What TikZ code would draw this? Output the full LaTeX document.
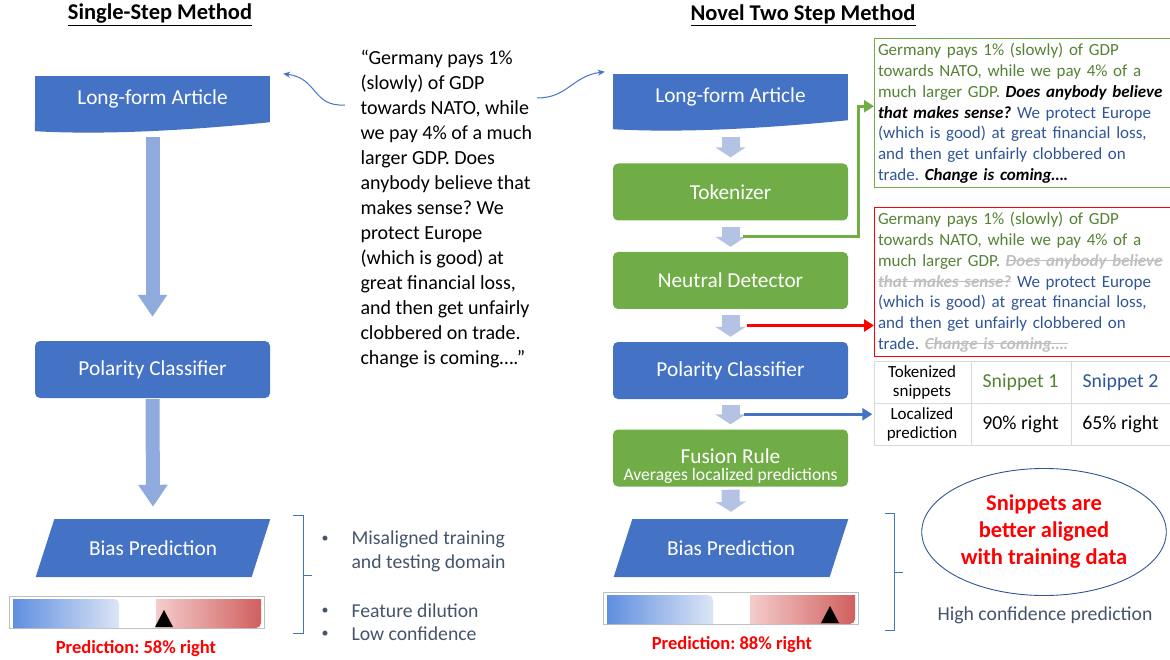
\documentclass[tikz,border=0pt]{standalone}
\usepackage{fontspec}
\setmainfont{Carlito}
\usetikzlibrary{positioning,shapes.geometric,arrows.meta,calc}

\definecolor{boxblue}{HTML}{4472C4}
\definecolor{boxgreen}{HTML}{70AD47}
\definecolor{longblue}{HTML}{8FAADC}
\definecolor{shortblue}{HTML}{B4C2E4}
\definecolor{txtgreen}{HTML}{548235}
\definecolor{txtblue}{HTML}{2F5597}
\definecolor{txtgray}{HTML}{44546A}
\definecolor{strikegray}{HTML}{BFBFBF}
\definecolor{barblue}{HTML}{5F8FE0}
\definecolor{barbluelight}{HTML}{DCE5F5}
\definecolor{barred}{HTML}{D0605E}
\definecolor{barredlight}{HTML}{F4CCCC}
\definecolor{tabline}{HTML}{D9D9D9}
\definecolor{bargray}{HTML}{BFBFBF}

\frenchspacing
\newcommand{\setfs}[2]{\fontsize{#1}{#2}\selectfont}
\newsavebox{\strkbox}
\newcommand{\strk}[1]{\leavevmode\sbox\strkbox{#1}\rlap{\rule[0.3em]{\wd\strkbox}{0.9pt}}\usebox\strkbox}
\newcommand{\loud}[1]{{\color{black}\bfseries\itshape #1}}
\newcommand{\gone}[1]{{\color{strikegray}\bfseries\itshape\strk{#1}}}
\newcommand{\blu}[1]{{\color{txtblue}#1}}

\begin{document}
\begin{tikzpicture}[x=1pt,y=-1pt,
  titledecorate/.style={font=\setfs{22.5}{26}\bfseries},
  docdecorate/.style={rectangle,fill=boxblue,minimum width=235pt,
    minimum height=46pt,text=white,font=\setfs{21.3}{25}},
  boxdecorate/.style={rectangle,rounded corners=5pt,minimum width=235pt,
    minimum height=57pt,text=white,font=\setfs{21.3}{25}},
  paradecorate/.style={trapezium,trapezium left angle=51,
    trapezium right angle=129,trapezium stretches=true,inner sep=0pt,
    minimum width=235pt,minimum height=58pt,fill=boxblue,text=white,
    font=\setfs{21.3}{25}},
  longarrow/.style={longblue,line width=14pt,-{Triangle[width=28pt,length=22pt]}},
  shortarrow/.style={shortblue,line width=18pt,-{Triangle[width=30pt,length=10pt]}},
  quotearrow/.style={boxblue,line width=1pt,-{Stealth[length=7pt,width=6pt]}},
  sidearrow/.style={line width=3pt,-{Triangle[length=10pt,width=12pt]}},
  textboxdecorate/.style={anchor=north west,line width=1pt,inner xsep=3.5pt,
    inner ysep=5pt,text width=289pt,align=left,text=txtgreen,
    font=\setfs{17}{20.7}},
  celldecorate/.style={minimum width=99pt,minimum height=42pt,align=center},
  bracketdecorate/.style={boxblue,line width=1pt},
  itemdecorate/.style={anchor=west,align=left,text=txtgray,font=\setfs{19.7}{24}},
  predlabel/.style={text=red,font=\setfs{18.5}{22}\bfseries}]
\useasboundingbox (0,0) rectangle (1170,660);

%% titles
\node (title1) at (160,15) [titledecorate] {\underline{Single-Step Method}};
\node (title2) at (803,15) [titledecorate] {\underline{Novel Two Step Method}};

%% single step column
\node (art1) at (152.5,99) [docdecorate] {Long-form Article};
\fill[boxblue] (art1.south east) .. controls +(-80,8) and +(70,4)
  .. ($(art1.south west)+(0,9)$) -- (art1.south west) -- cycle;
\node (pol1) at (152.5,369.5) [boxdecorate,fill=boxblue] {Polarity Classifier};
\node (bias1) at (153,548) [paradecorate] {Bias Prediction};
\draw[longarrow] ([yshift=-15pt]art1.south) -- ([yshift=24pt]pol1.north);
\draw[longarrow] ([yshift=-1pt]pol1.south) -- ([yshift=12pt]bias1.north);

%% two step column
\node (art2) at (730.5,97) [docdecorate] {Long-form Article};
\fill[boxblue] (art2.south east) .. controls +(-80,8) and +(70,4)
  .. ($(art2.south west)+(0,9)$) -- (art2.south west) -- cycle;
\foreach \nodename/\y/\col/\txt in {tok/192/boxgreen/Tokenizer,
  neu/280.5/boxgreen/Neutral Detector, pol2/370.5/boxblue/Polarity Classifier,
  fus/458/boxgreen/{}}
{
  \node (\nodename) at (730.5,\y) [boxdecorate,fill=\col] {\txt};
}
\node (fustitle) at (730.5,456) [text=white,font=\setfs{21.3}{25}] {Fusion Rule};
\node (fussub) at (730.5,476) [text=white,font=\setfs{17.6}{20}] {Averages localized predictions};
\node (bias2) at (731,548) [paradecorate] {Bias Prediction};

\draw[shortarrow] ([yshift=-17pt]art2.south) -- ([yshift=6pt]tok.north);
\foreach \startnode/\endnode in {tok/neu, neu/pol2, pol2/fus}
{
  \draw[shortarrow] ([yshift=-6pt]\startnode.south) -- ([yshift=5pt]\endnode.north);
}
\draw[shortarrow] ([yshift=-3pt]fus.south) -- ([yshift=7pt]bias2.north);

%% quote in the middle
\node (quote) [anchor=north west,align=left,font=\setfs{20}{25}] at (357,47)
  {“Germany pays 1\%\\(slowly) of GDP\\towards NATO, while\\we pay 4\% of a much\\
   larger GDP. Does\\anybody believe that\\makes sense? We\\protect Europe\\
   (which is good) at\\great financial loss,\\and then get unfairly\\
   clobbered on trade.\\change is coming….”};
\coordinate (qleft) at (345,105);
\coordinate (qright) at (537,98);
\draw[quotearrow] (qleft) .. controls (312,107) and (318,78) .. ([xshift=13pt,yshift=2pt]art1.north east);
\draw[quotearrow] (qright) .. controls (568,98) and (572,76) .. ([xshift=-8pt,yshift=2pt]art2.north west);

%% snippets on the right
\node (gbox) [textboxdecorate,draw=boxgreen] at (874,38)
  {Germany pays 1\% (slowly) of GDP\\
   towards NATO, while we pay 4\% of a\\
   much larger GDP. \loud{Does anybody believe}\\
   \loud{that makes sense?} \blu{We protect Europe}\\
   \blu{(which is good) at great financial loss,}\\
   \blu{and then get unfairly clobbered on}\\
   \blu{trade.} \loud{Change is coming….}};
\node (rbox) [textboxdecorate,draw=red] at (874,207)
  {Germany pays 1\% (slowly) of GDP\\
   towards NATO, while we pay 4\% of a\\
   much larger GDP. \gone{Does anybody believe}\\
   \gone{that makes sense?} \blu{We protect Europe}\\
   \blu{(which is good) at great financial loss,}\\
   \blu{and then get unfairly clobbered on}\\
   \blu{trade.} \gone{Change is coming….}};

\coordinate (gstart) at ($(tok.south)!0.5!(neu.north)+(12,0)$);
\coordinate (rstart) at ($(neu.south)!0.5!(pol2.north)+(16,0)$);
\coordinate (bstart) at ($(pol2.south)!0.5!(fus.north)+(13,0)$);

%% table
\foreach \nodename/\x/\y/\col/\sz/\txt in {c11/922/382/black/17/{Tokenized\\snippets},
  c12/1020.5/382/txtgreen/19.8/Snippet 1, c13/1120.5/382/txtblue/19.8/Snippet 2,
  c21/922/424/black/17/{Localized\\prediction}, c22/1020.5/424/black/19.8/90\% right,
  c23/1120.5/424/black/19.8/65\% right}
{
  \node (\nodename) at (\x,\y) [celldecorate,text=\col,font=\setfs{\sz}{19}] {\txt};
}
\draw[tabline,line width=1pt] (874,361) -- (1170,361) (874,403) -- (1170,403)
  (874,445) -- (1170,445) (874,361) -- (874,445) (971,361) -- (971,445)
  (1071,361) -- (1071,445);

\draw[sidearrow,boxgreen] (gstart) -- ++(116,0) |- ([yshift=7pt]gbox.west);
\draw[sidearrow,red] (rstart) -- (rstart -| rbox.west);
\draw[sidearrow,boxblue,line width=2.5pt] (bstart) -- (bstart -| c21.west);

%% prediction bars
\foreach \bx/\by/\tx in {9/596/164, 603/592/830}
{
  \draw[bargray,line width=1pt] (\bx,\by) rectangle +(255,32);
  \shade[left color=barblue,right color=barbluelight]
    (\bx+4,\by+32) -- (\bx+4,\by+3) [rounded corners=5pt] -- (\bx+110,\by+3)
    [sharp corners] -- (\bx+110,\by+32) -- cycle;
  \shade[left color=barredlight,right color=barred]
    (\bx+147,\by+32) -- (\bx+147,\by+3) -- (\bx+252,\by+3) [rounded corners=5pt]
    -- (\bx+252,\by+32) [sharp corners] -- cycle;
  \fill[black] (\tx-9,\by+31) -- (\tx+9,\by+31) -- (\tx,\by+14) -- cycle;
}
\node (pred1) at (136,649) [predlabel] {Prediction: 58\% right};
\node (pred2) at (732,645) [predlabel] {Prediction: 88\% right};

%% remarks
\draw[bracketdecorate] (293,515) -- (303,515) -- (303,633) -- (293,633)
  (303,575) -- (312,575);
\foreach \nodename/\y in {dot1/539, dot2/611, dot3/634}
{
  \node (\nodename) at (325,\y) [text=txtgray,font=\setfs{14}{16}] {\textbullet};
}
\node (item1) at (348,551) [itemdecorate] {Misaligned training\\and testing domain};
\node (item2) at (348,611) [itemdecorate] {Feature dilution};
\node (item3) at (348,634) [itemdecorate] {Low confidence};

\draw[bracketdecorate] (885,513) -- (894,513) -- (894,630) -- (885,630)
  (894,572) -- (903,572);
\node (note) at (1044,532) [ellipse,draw=txtblue,line width=0.9pt,
  minimum width=244pt,minimum height=127pt,align=center,text=red,
  font=\setfs{22.5}{27}\bfseries] {Snippets are\\better aligned\\with training data};
\node (conf) at (1045,615) [text=txtgray,font=\setfs{19.7}{22}] {High confidence prediction};
\end{tikzpicture}
\end{document}
